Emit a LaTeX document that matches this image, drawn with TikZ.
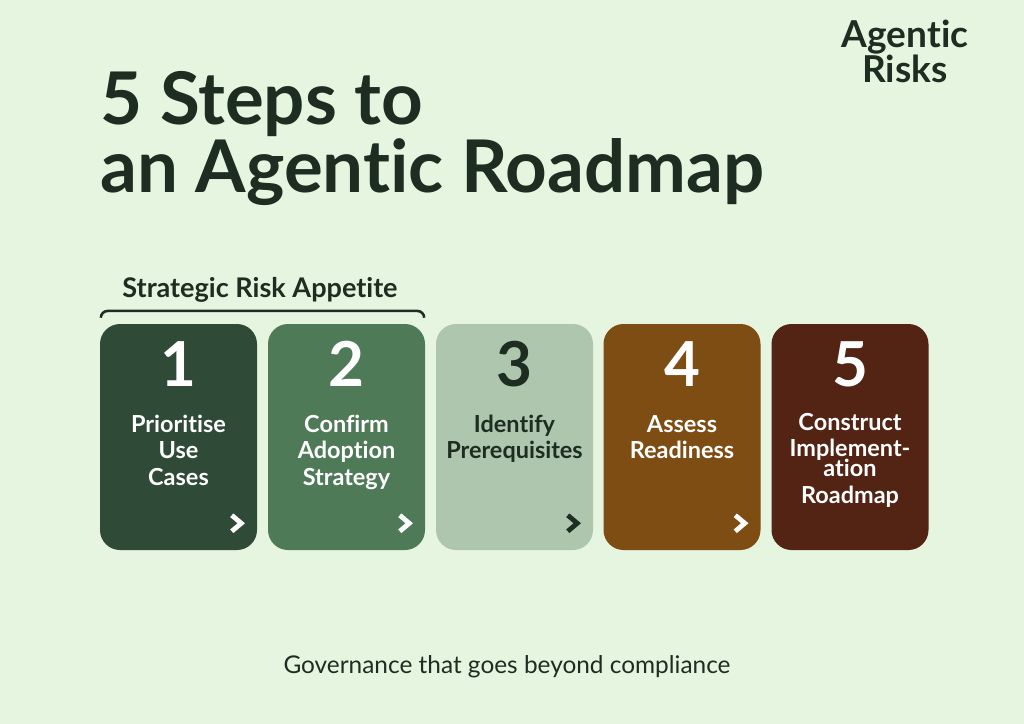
\documentclass[tikz,border=0pt]{standalone}
\usepackage{fontspec}
\setmainfont[RawFeature={-liga;-clig;-calt;-dlig}]{Lato}
\definecolor{bg}{HTML}{E6F5E0}
\definecolor{ink}{HTML}{1E2D21}
\definecolor{cA}{HTML}{2F4A36}
\definecolor{cB}{HTML}{4F7A58}
\definecolor{cC}{HTML}{AEC5AE}
\definecolor{cD}{HTML}{7E4D14}
\definecolor{cE}{HTML}{532314}
\tikzset{
  card/.style={rounded corners=15pt, minimum width=157*0.75pt, minimum height=226*0.75pt, inner sep=0pt, draw=none},
  num/.style={anchor=base, inner sep=0pt, font=\fontsize{46.5}{46.5}\selectfont\bfseries},
  lbl/.style={anchor=base, inner sep=0pt, align=center, font=\fontsize{17.6}{19.7}\selectfont\bfseries},
  chev/.style={line width=3.6pt, miter limit=10, line join=miter},
}
\begin{document}
\begin{tikzpicture}[x=0.75pt,y=-0.75pt]
\fill[bg] (0,0) rectangle (1024,724);
\useasboundingbox (0,0) rectangle (1024,724);
% logo
\node[anchor=base, inner sep=0pt, align=center, text=ink, font=\fontsize{27.8}{24.8}\selectfont\bfseries] (logo) at (905,83) {Agentic\\Risks};
% title
\node[anchor=base west, inner sep=0pt, align=left, text=ink, font=\fontsize{54.5}{48.8}\selectfont\bfseries] (title) at (100,192) {5 Steps to\\an Agentic Roadmap};
% cards
\node[card, fill=cA] (s1) at (178.5,437) {};
\node[card, fill=cB] (s2) at (346.5,437) {};
\node[card, fill=cC] (s3) at (514.5,437) {};
\node[card, fill=cD] (s4) at (682,437) {};
\node[card, fill=cE] (s5) at (850,437) {};
% numbers
\node[num, text=white] (n1) at (178.5,386) {1};
\node[num, text=white] (n2) at (346.5,386) {2};
\node[num, text=ink] (n3) at (514.5,386) {3};
\node[num, text=white] (n4) at (682,386) {4};
\node[num, text=white] (n5) at (850,386) {5};
% labels (anchor = baseline of last line)
\node[lbl, text=white] (l1) at (178.5,485) {Prioritise\\Use\\Cases};
\node[lbl, text=white] (l2) at (346.5,485) {Confirm\\Adoption\\Strategy};
\node[lbl, text=ink] (l3) at (514.5,458.5) {Identify\\Prerequisites};
\node[lbl, text=white] (l4) at (682,458.5) {Assess\\Readiness};
\node[lbl, text=white] (l5) at (850,503) {Construct\\Implement-\\[-4.8pt]ation\\Roadmap};
% chevrons
\foreach \c/\col in {s1/white, s2/white, s3/ink, s4/white}{
  \draw[chev, \col] ([xshift=-25.5*0.75pt, yshift=35*0.75pt]\c.south east) -- ([xshift=-16*0.75pt, yshift=27*0.75pt]\c.south east) -- ([xshift=-25.5*0.75pt, yshift=19*0.75pt]\c.south east);
}
% bracket
\draw[ink, line width=1.9pt] ([xshift=0.8pt, yshift=4.5pt]s1.north west) to[out=90,in=180] ([xshift=6pt, yshift=9.6pt]s1.north west) -- ([xshift=-6pt, yshift=9.6pt]s2.north east) to[out=0,in=90] ([xshift=-0.8pt, yshift=4.5pt]s2.north east);
\node[anchor=base, inner sep=0pt, text=ink, font=\fontsize{20.3}{20.3}\selectfont\bfseries] (sra) at (260,297) {Strategic Risk Appetite};
% footer
\node[anchor=base, inner sep=0pt, text=ink, font=\fontsize{18.3}{18.3}\selectfont] (foot) at (507,673) {Governance that goes beyond compliance};
\end{tikzpicture}
\end{document}
